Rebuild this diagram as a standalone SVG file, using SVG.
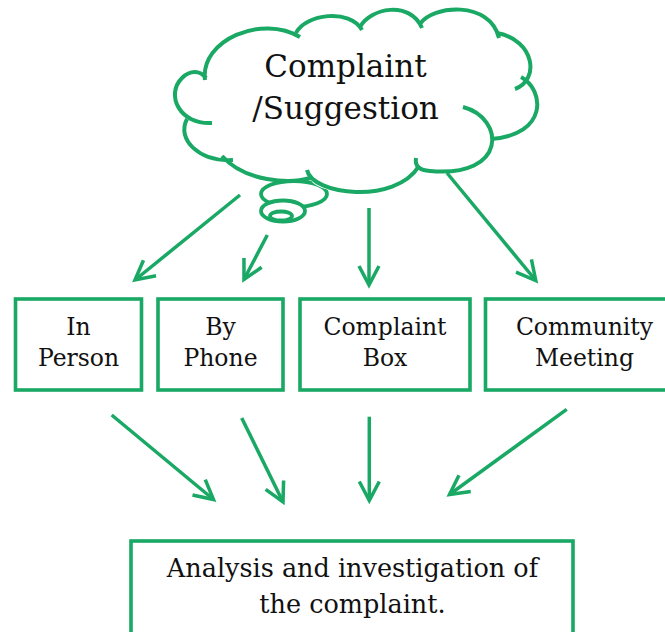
<svg xmlns="http://www.w3.org/2000/svg" width="665" height="632" viewBox="0 0 665 632">
<style>
.g{fill:none;stroke:#1aa865;stroke-width:4;stroke-linecap:butt}
.box{fill:#fff;stroke:#1aa865;stroke-width:3.6}
.bub{fill:#fff;stroke:#1aa865;stroke-width:3.8}
.arr{fill:none;stroke:#1aa865;stroke-width:3.5;marker-end:url(#ah)}
text{font-family:"DejaVu Serif","Liberation Serif",serif;fill:#111;text-anchor:middle}
.t1{font-size:31px}
.t2{font-size:23.5px}
.t3{font-size:25.5px}
</style>
<defs>
<marker id="ah" markerUnits="userSpaceOnUse" markerWidth="30" markerHeight="30" refX="0" refY="0" orient="auto" overflow="visible">
<path d="M-19,-10 L0,0 L-19,10" fill="none" stroke="#1aa865" stroke-width="3.5" stroke-linejoin="miter"/>
</marker>
</defs>
<rect width="665" height="632" fill="#fff"/>
<g id="cloud">
<ellipse class="bub" cx="294" cy="194" rx="33" ry="13"/>
<ellipse class="bub" cx="283" cy="211" rx="22" ry="10.5"/>
<ellipse class="bub" cx="281" cy="216" rx="11" ry="4.5"/>
<path fill="#fff" d="M205,76 C200,40 262,14 296,33 C305,14 350,8 360,27 C370,8 410,0 421,25 C432,5 490,0 498,34 C535,40 540,80 521,80 C545,90 548,135 491,139 C500,160 480,172 419,168 C395,205 312,195 310,178 C290,184 245,182 228,160 C200,162 176,140 187,119 C165,100 180,70 205,76 Z"/>
<path class="g" d="M205,80 C200,40 262,14 300,37"/>
<path class="g" d="M296,33 C305,14 350,8 362,30"/>
<path class="g" d="M360,27 C370,8 410,0 422,28"/>
<path class="g" d="M420,24 C432,5 490,0 499,38"/>
<path class="g" d="M497,33 C535,40 540,80 515,89"/>
<path class="g" d="M521,77 C545,90 548,135 491,139"/>
<path class="g" d="M463,107 C505,118 508,178 430,171 Q414,170 416,158"/>
<path class="g" d="M307,170 C312,195 395,205 419,166"/>
<path class="g" d="M310,178 C290,184 245,182 222,156"/>
<path class="g" d="M187,119 C176,140 200,162 233,160"/>
<path class="g" d="M212,123 C180,125 165,95 182,78 C190,70 200,70 206,78"/>
<text class="t1" x="345.5" y="77">Complaint</text>
<text class="t1" x="345.5" y="119">/Suggestion</text>
</g>
<g id="in-person">
<rect class="box" x="15.5" y="299" width="126" height="91"/>
<text class="t2" x="78.5" y="335">In</text>
<text class="t2" x="78.5" y="366">Person</text>
</g>
<g id="by-phone">
<rect class="box" x="158" y="299" width="125" height="91"/>
<text class="t2" x="220.5" y="335">By</text>
<text class="t2" x="220.5" y="366">Phone</text>
</g>
<g id="complaint-box">
<rect class="box" x="300" y="299" width="170" height="91"/>
<text class="t2" x="385" y="335">Complaint</text>
<text class="t2" x="385" y="366">Box</text>
</g>
<g id="community-meeting">
<rect class="box" x="485.5" y="299" width="200" height="91"/>
<text class="t2" x="584.5" y="335">Community</text>
<text class="t2" x="584.5" y="366">Meeting</text>
</g>
<g id="analysis">
<rect class="box" x="131" y="541" width="442" height="120" stroke-width="4"/>
<text class="t3" x="352.5" y="577">Analysis and investigation of</text>
<text class="t3" x="352.5" y="613">the complaint.</text>
</g>
<g id="connectors">
<line class="arr" x1="240" y1="195" x2="135" y2="280"/>
<line class="arr" x1="267.3" y1="235" x2="244" y2="279.5"/>
<line class="arr" x1="369" y1="208" x2="369" y2="285"/>
<line class="arr" x1="447" y1="173" x2="535.8" y2="280.5"/>
<line class="arr" x1="111.7" y1="415" x2="213.5" y2="499.5"/>
<line class="arr" x1="241.7" y1="418" x2="283" y2="502"/>
<line class="arr" x1="369.3" y1="416.7" x2="369.3" y2="500.5"/>
<line class="arr" x1="566.7" y1="409.3" x2="449.5" y2="494.5"/>
</g>
</svg>
